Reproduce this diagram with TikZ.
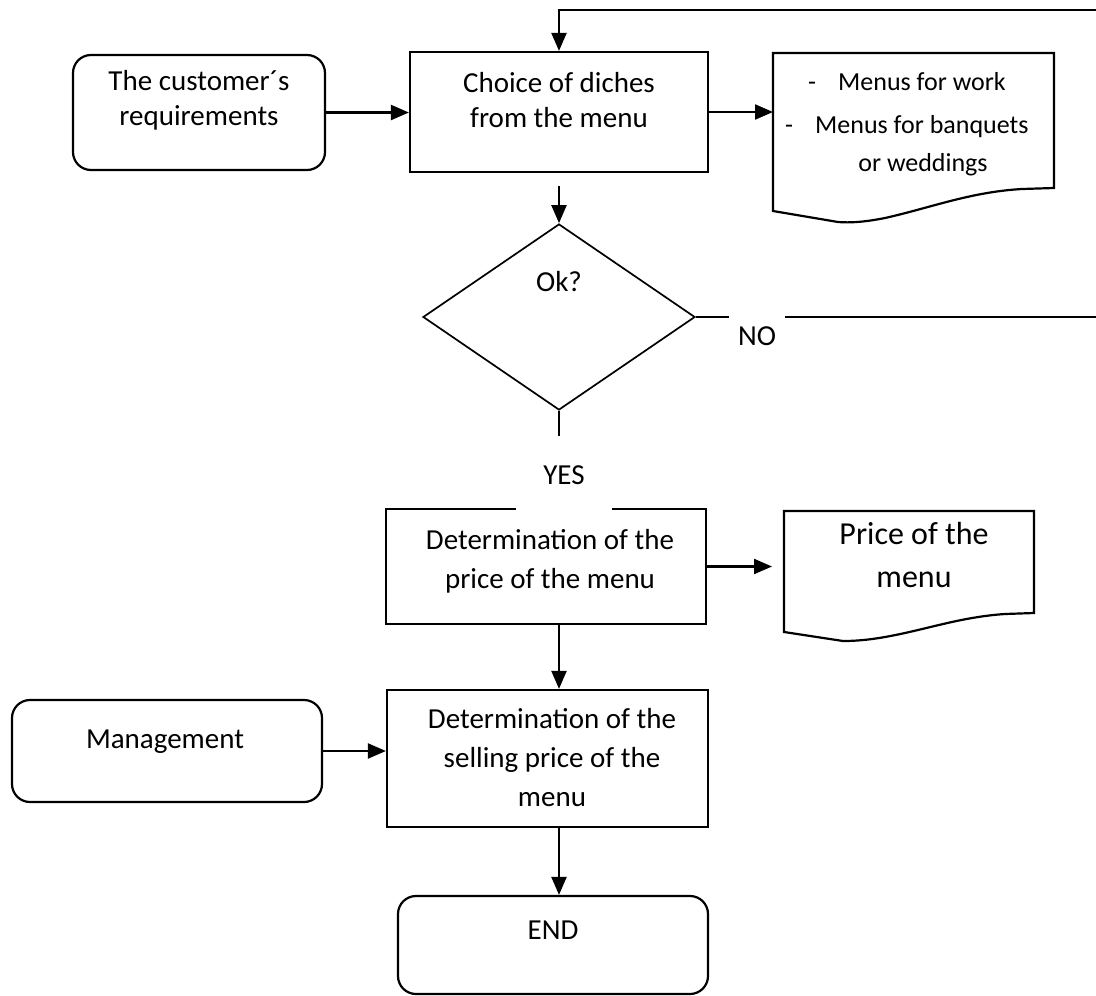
\documentclass[tikz,border=0pt]{standalone}
\usepackage{fontspec}
\setmainfont{Carlito}
\usetikzlibrary{shapes.geometric,arrows.meta}
\begin{document}
\begin{tikzpicture}[x=1pt,y=-1pt,
  box/.style={draw, line width=2.2pt, inner sep=0pt},
  rbox/.style={box, rounded corners=18pt},
  txt/.style={font=\fontsize{29pt}{35pt}\selectfont, align=center, inner sep=0pt},
  txtb/.style={txt, font=\fontsize{29pt}{39pt}\selectfont},
  txts/.style={font=\fontsize{26pt}{30pt}\selectfont, inner sep=0pt},
  txtl/.style={font=\fontsize{32pt}{43pt}\selectfont, align=center, inner sep=0pt},
  ln/.style={line width=2.2pt},
  arr/.style={line width=2.2pt, -{Triangle[length=18pt,width=15pt]}}]

\useasboundingbox (0,0) rectangle (1096,996);

% top row
\node[rbox, minimum width=252pt, minimum height=115pt] (cust) at (199,112.5) {};
\node[txt] (custT) at (199,100) {The customer´s\\requirements};
\node[box, minimum width=298pt, minimum height=120pt] (choice) at (559,112) {};
\node[txt] (choiceT) at (559,100) {Choice of diches\\from the menu};

\node[minimum width=281pt, minimum height=170pt, inner sep=0pt, anchor=north west] (doc1) at (773,53) {};
\draw[ln] (773,53) -- (1054,53) -- (1054,188) -- (1022,189)
  .. controls (970,192) and (930,208) .. (885,218)
  .. controls (865,222) and (850,223) .. (838,222) -- (773,211) -- cycle;
\node[txts, anchor=base] (d1dashA) at (812,90) {-};
\node[txts, anchor=base west] (d1a) at (838,90) {Menus for work};
\node[txts, anchor=base] (d1dashB) at (789,133) {-};
\node[txts, anchor=base west] (d1b) at (815,133) {Menus for banquets};
\node[txts, anchor=base] (d1c) at (923,171) {or weddings};

\draw[arr] (cust.east) -- (cust.east -| choice.west);
\draw[arr] (choice.east) -- (choice.east -| doc1.west);

% decision
\node[draw, diamond, line width=1.7pt, minimum width=272pt, minimum height=186pt,
  inner sep=0pt, aspect=1.46] (dia) at (559,317) {};
\node[txt] (okT) at (559,282) {Ok?};
\draw[arr] ([yshift=-13pt]choice.south) -- (dia.north);

% NO loop
\coordinate (noL) at (729,317);
\coordinate (noR) at (785,317);
\coordinate (topy) at (0,10);
\draw[ln] (dia.east) -- (noL);
\node[txt] (noT) at (757,336) {NO};
\draw[arr] (noR) -- (1110,317) -- (1110,10) -- (choice.north |- topy) -- (choice.north);

% price determination
\node[box, minimum width=320pt, minimum height=115pt] (price) at (546,566.5) {};
\node[txtb] (priceT) at (550,561) {Determination of the\\price of the menu};
\draw[ln] (dia.south) -- (price.north -| dia.south);
\node[txt, fill=white, minimum width=96pt, minimum height=78pt] (yes) at (564,475) {YES};

\node[minimum width=250pt, minimum height=130pt, inner sep=0pt, anchor=north west] (doc2) at (784,511) {};
\draw[ln] (784,511) -- (1034,511) -- (1034,613) -- (1005,614)
  .. controls (960,617) and (925,630) .. (885,637)
  .. controls (868,640) and (855,641) .. (843,641) -- (784,632) -- cycle;
\node[txtl] (doc2T) at (914,555) {Price of the\\menu};
\draw[arr, shorten >=12pt] (price.east) -- (price.east -| doc2.west);

% selling price
\node[box, minimum width=321pt, minimum height=137pt] (sel) at (547.5,758.5) {};
\node[txtb] (selT) at (552,757.5) {Determination of the\\selling price of the\\menu};
\draw[arr] (price.south -| dia.south) -- (sel.north -| dia.south);

\node[rbox, minimum width=310pt, minimum height=102pt] (mgmt) at (167,751) {};
\node[txt] (mgmtT) at (165,742) {Management};
\draw[arr] (mgmt.east) -- (mgmt.east -| sel.west);

% end
\node[rbox, minimum width=310pt, minimum height=98pt] (endb) at (553,945) {};
\node[txt] (endT) at (553,930) {END};
\draw[arr] (sel.south -| dia.south) -- (endb.north -| dia.south);
\end{tikzpicture}
\end{document}
